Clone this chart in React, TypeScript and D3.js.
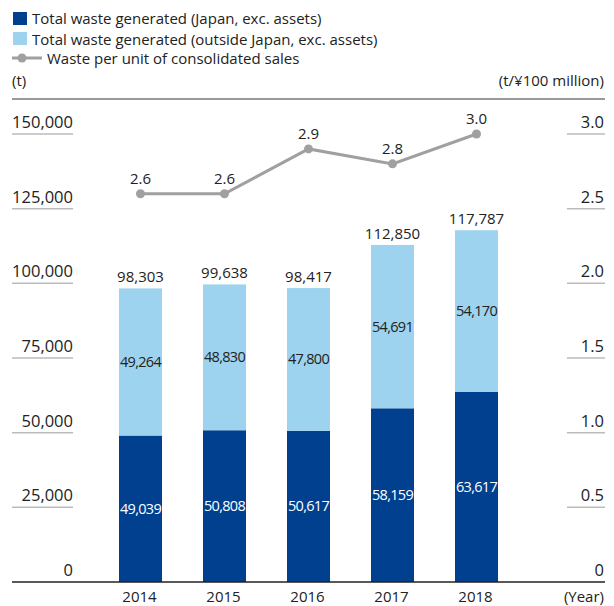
import React from "react";
import * as d3 from "d3";

const years = ["2014", "2015", "2016", "2017", "2018"];
const japan = [49039, 50808, 50617, 58159, 63617];
const outside = [49264, 48830, 47800, 54691, 54170];
const totals = [98303, 99638, 98417, 112850, 117787];
const perUnit = [2.6, 2.6, 2.9, 2.8, 3.0];
const leftTicks = [0, 25000, 50000, 75000, 100000, 125000, 150000];
const rightTicks = [0, 0.5, 1.0, 1.5, 2.0, 2.5, 3.0];
const legendLabels = [
  "Total waste generated (Japan, exc. assets)",
  "Total waste generated (outside Japan, exc. assets)",
  "Waste per unit of consolidated sales",
];

const W = 614;
const H = 606;
const DARK = "#00408f";
const LIGHT = "#9dd3ef";
const GREY = "#a0a0a0";
const TXT = "#222";
const FONT = "'Open Sans', 'Noto Sans', sans-serif";

export default function App() {
  const x = d3
    .scaleBand<string>()
    .domain(years)
    .range([98.5, 518.5])
    .paddingInner(0.488)
    .paddingOuter(0.244);
  const y = d3.scaleLinear().domain([0, 150000]).range([582, 134]);
  const y2 = d3.scaleLinear().domain([0, 3]).range([582, 134]);
  const fmt = d3.format(",");
  const fmt1 = d3.format(".1f");
  const bw = x.bandwidth();
  const cx = (yr: string) => (x(yr) as number) + bw / 2;

  const line = d3
    .line<number>()
    .x((_, i) => cx(years[i]))
    .y((d) => y2(d));

  return (
    <svg
      width={W}
      height={H}
      style={{ position: "absolute", left: 0, top: 0, fontFamily: FONT }}
    >
      <rect width={W} height={H} fill="#fff" />
      {/* legend */}
      <rect x={13} y={12} width={14} height={13} fill={DARK} />
      <text x={32} y={24} fontSize={15} fill={TXT}>{legendLabels[0]}</text>
      <rect x={13} y={32} width={14} height={13} fill={LIGHT} />
      <text x={32} y={44.5} fontSize={15} fill={TXT}>{legendLabels[1]}</text>
      <line x1={12} x2={42} y1={58} y2={58} stroke={GREY} strokeWidth={3} />
      <circle cx={22} cy={58} r={4.5} fill={GREY} />
      <text x={47} y={64} fontSize={15} fill={TXT}>{legendLabels[2]}</text>
      <text x={12} y={86} fontSize={15} fill={TXT}>(t)</text>
      <text x={604} y={86} fontSize={15} fill={TXT} textAnchor="end">(t/¥100 million)</text>
      <line x1={12} x2={605} y1={99} y2={99} stroke="#777" strokeWidth={1.5} />

      {/* left axis */}
      {leftTicks.map((t) => (
        <g key={"l" + t}>
          {t !== 0 && (
            <line x1={12} x2={73} y1={y(t)} y2={y(t)} stroke="#bbb" strokeWidth={1.5} />
          )}
          <text x={73} y={y(t) - 6} fontSize={16.5} fill={TXT} textAnchor="end">
            {fmt(t)}
          </text>
        </g>
      ))}
      {/* right axis */}
      {rightTicks.map((t) => (
        <g key={"r" + t}>
          {t !== 0 && (
            <line x1={567} x2={605} y1={y2(t)} y2={y2(t)} stroke="#bbb" strokeWidth={1.5} />
          )}
          <text x={604} y={y2(t) - 6} fontSize={16.5} fill={TXT} textAnchor="end">
            {t === 0 ? "0" : fmt1(t)}
          </text>
        </g>
      ))}

      {/* bars */}
      {years.map((yr, i) => {
        const x0 = x(yr) as number;
        const yJ = y(japan[i]);
        const yT = y(japan[i] + outside[i]);
        return (
          <g key={yr}>
            <rect x={x0} y={yJ} width={bw} height={y(0) - yJ} fill={DARK} />
            <rect x={x0} y={yT} width={bw} height={yJ - yT} fill={LIGHT} />
            <text
              x={cx(yr)}
              y={(yJ + y(0)) / 2 + 5}
              fontSize={14.5}
              letterSpacing={-0.7}
              fill="#fff"
              textAnchor="middle"
            >
              {fmt(japan[i])}
            </text>
            <text
              x={cx(yr)}
              y={(yJ + yT) / 2 + 5}
              fontSize={14.5}
              letterSpacing={-0.7}
              fill={TXT}
              textAnchor="middle"
            >
              {fmt(outside[i])}
            </text>
            <text
              x={cx(yr)}
              y={y(totals[i]) - 6}
              fontSize={15}
              fill={TXT}
              textAnchor="middle"
            >
              {fmt(totals[i])}
            </text>
            <text x={cx(yr) - 1} y={602} fontSize={15} fill={TXT} textAnchor="middle">
              {yr}
            </text>
          </g>
        );
      })}
      <text x={604} y={602} fontSize={15} fill={TXT} textAnchor="end">(Year)</text>
      <line x1={12} x2={605} y1={582} y2={582} stroke="#222" strokeWidth={1.5} />

      {/* line */}
      <path d={line(perUnit) || ""} fill="none" stroke={GREY} strokeWidth={3} />
      {perUnit.map((v, i) => (
        <g key={"p" + i}>
          <circle cx={cx(years[i])} cy={y2(v)} r={4.5} fill={GREY} />
          <text x={cx(years[i])} y={y2(v) - 10} fontSize={15} fill={TXT} textAnchor="middle">
            {fmt1(v)}
          </text>
        </g>
      ))}
    </svg>
  );
}
